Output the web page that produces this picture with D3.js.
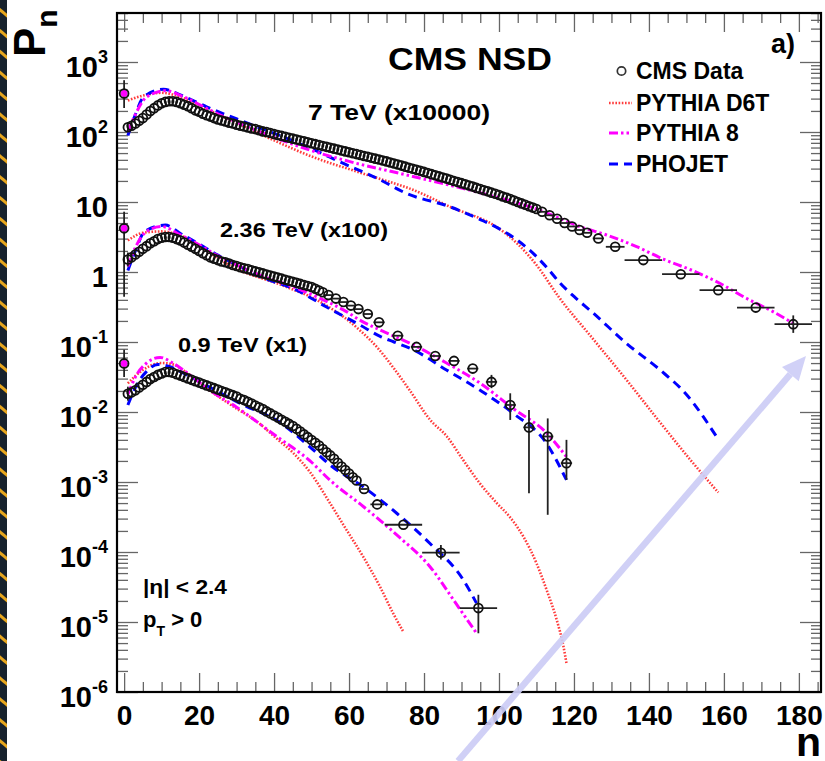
<!DOCTYPE html>
<html><head><meta charset="utf-8">
<script src="https://cdn.jsdelivr.net/npm/d3@7"></script>
<style>
body{margin:0;background:#fff;}
svg{display:block;font-family:"Liberation Sans",Arial,Helvetica,sans-serif;font-weight:bold;}
</style></head><body>
<svg id="c" width="825" height="761"></svg>
<script>
// ---------------- DATA (displayed values, already scaled) ----------------
const energyLabels = ["7 TeV (x10000)", "2.36 TeV (x100)", "0.9 TeV (x1)"];
const legendLabels = ["CMS Data", "PYTHIA D6T", "PYTHIA 8", "PHOJET"];
const xTickValues = [0, 20, 40, 60, 80, 100, 120, 140, 160, 180];
const yDecades = [-6, -5, -4, -3, -2, -1, 0, 1, 2, 3];

// CMS data, 7 TeV (x10000): n = 0..110 then wider bins
const cms7_v = [355,117,123,132,145,158,178,200,219,240,
 257,269,275,275,269,257,245,234,219,204,
 195,182,174,166,158,151,146,141,136,132,
 127,123,120,116,112,110,106,102,100,96.6,
 93.3,90.6,87.9,85.3,82.8,80.4,78.0,75.7,73.5,71.3,
 69.2,67.1,65.2,63.2,61.4,59.6,57.8,56.1,54.4,52.8,
 51.3,49.8,48.3,46.9,45.5,44.2,42.9,41.6,40.4,39.2,
 38.0,36.7,35.5,34.3,33.1,32.0,30.9,29.9,28.8,27.9,
 26.9,25.9,25.0,24.1,23.2,22.4,21.6,20.8,20.0,19.3,
 18.6,17.9,17.2,16.6,15.9,15.3,14.7,14.2,13.6,13.1,
 12.6,12.0,11.5,11.0,10.5,10.0,9.55,9.12,8.71,8.32,
 7.94];
const cms7_tail_n = [111.5,113.5,115.5,117.5,119.5,121.5,123.5,126.5,131,138.5,148.5,158.5,168.5,178.5];
const cms7_tail_v = [7.24,6.46,5.75,5.01,4.47,3.98,3.63,3.02,2.29,1.48,0.93,0.55,0.31,0.18];
const cms7_tail_xe = [1,1,1,1,1,1,1,1.5,2.5,5,5,5,5,5];
const cms7_err = [[0,220,550],[1,100,137],[2,108,138],[178.5,0.135,0.24]];

// CMS data, 2.36 TeV (x100): n = 0..53 then wider bins
const cms236_v = [4.2,1.51,1.62,1.78,1.95,2.14,2.34,2.57,2.75,2.95,
 3.09,3.16,3.16,3.09,2.95,2.82,2.63,2.45,2.29,2.14,
 2.00,1.86,1.74,1.62,1.55,1.48,1.41,1.38,1.32,1.26,
 1.22,1.17,1.13,1.10,1.06,1.02,0.989,0.955,0.923,0.891,
 0.861,0.832,0.804,0.776,0.750,0.724,0.700,0.676,0.653,0.631,
 0.610,0.575,0.543,0.513];
const cms236_tail_n = [54.5,56.5,58.5,60.5,62.5,65,68,73,78,83,88,93,98,103,108,113,118];
const cms236_tail_v = [0.468,0.417,0.372,0.331,0.295,0.251,0.191,0.123,0.0851,0.0631,0.0537,0.0417,0.0269,0.0126,0.00603,0.00447,0.00186];
const cms236_tail_xe = [1,1,1,1,1,1.2,1.5,1.5,1.5,1.5,1.5,1.5,1.5,1.5,1.5,1.5,1.5];
const cms236_err = [[0,0.443,7.27],[1,1.2,1.9],[2,1.4,1.85],[98,0.0219,0.0339],[103,0.0077,0.0185],[108,0.00069,0.0107],[113,0.00034,0.0081],[118,0.00107,0.0040]];

// CMS data, 0.9 TeV (x1): n = 0..62 then wider bins
const cms09_v = [0.0495,0.0182,0.0191,0.0204,0.0224,0.0245,0.0269,0.0295,0.0316,0.0339,
 0.0355,0.0372,0.0372,0.0363,0.0347,0.0331,0.0316,0.0302,0.0288,0.0275,
 0.0263,0.0251,0.0240,0.0229,0.0219,0.0209,0.0200,0.0191,0.0182,0.0174,
 0.0166,0.0155,0.0148,0.0140,0.0132,0.0124,0.0117,0.0110,0.0102,0.00955,
 0.00891,0.00832,0.00776,0.00724,0.00676,0.00631,0.00575,0.00525,0.00479,0.00437,
 0.00398,0.00363,0.00331,0.00295,0.00266,0.00240,0.00214,0.00188,0.00166,0.00148,
 0.00132,0.00117,0.00105];
const cms09_tail_n = [64,67.5,74.5,84.5,94.5];
const cms09_tail_v = [0.000794,0.000479,0.000245,0.0000977,0.0000158];
const cms09_tail_xe = [1,1.8,5,5,5];
const cms09_err = [[0,0.0316,0.0776],[1,0.0145,0.023],[84.5,0.000078,0.000126],[94.5,0.0000069,0.0000245]];

// PYTHIA D6T
const d6t7_n = [1,5,10,15,20,25,30,40,50,60,70,76,87,100,105,110,116,125,134,143,151,158.5];
const d6t7_v = [282,331,363,316,240,178,135,75.9,44.7,29.5,20.0,15.7,8.51,4.17,2.51,1.26,0.436,0.112,0.0288,0.00708,0.00209,0.000708];
const d6t236_n = [1,5,10,15,20,25,30,35,40.7,45,49.6,54,58.5,63,67.4,72,76.3,81.6,86.1,90.5,94.9,99.4,102.9,106.5,110,112.7,115.4,117.2,118];
const d6t236_v = [2.82,3.63,3.80,3.31,2.40,1.58,1.10,0.871,0.692,0.562,0.447,0.331,0.229,0.145,0.0851,0.0417,0.0200,0.00776,0.00447,0.00204,0.000955,0.000501,0.000316,0.000166,0.0000692,0.0000288,0.0000107,0.00000447,0.00000257];
const d6t09_n = [1,5,10,13,17,23,30,35,40.7,45,49.6,54.9,59.4,63.8,68.3,71.8,74.5];
const d6t09_v = [0.0257,0.0398,0.0501,0.0479,0.0355,0.0200,0.0112,0.00759,0.00417,0.00263,0.00138,0.000501,0.000204,0.0000851,0.0000316,0.0000132,0.00000724];

// PYTHIA 8
const py8_7_n = [1,3,6,11,16,23,30,40.7,49.6,60,75.4,90,100,110,116,121.6,128.7,136.7,143.8,151.8,158.9,166,173.1,178.5];
const py8_7_v = [100,178,316,389,316,204,138,81.3,55.0,38.0,24.3,15.8,11.5,7.94,5.89,4.44,3.38,2.30,1.53,1.04,0.690,0.421,0.271,0.185];
const py8_236_n = [1,3,6,10,15,20,25,30,36,46,54,58.5,63,68.3,77.1,86,95,103.8,112.7,118];
const py8_236_v = [1.20,2.24,3.80,4.47,3.39,2.45,1.70,1.26,0.912,0.589,0.380,0.288,0.204,0.148,0.0912,0.0501,0.0257,0.0112,0.00501,0.00229];
const py8_09_n = [1,3,6,9.6,13,17,22.9,30,40.7,49.6,55,63.8,72.8,81.6,88.7,94];
const py8_09_v = [0.0178,0.0316,0.0501,0.0603,0.0501,0.0355,0.0204,0.0117,0.00447,0.00200,0.00105,0.000447,0.000174,0.0000617,0.0000178,0.00000692];

// PHOJET
const pho7_n = [1,3,5.2,10.5,15,22,31.8,43.4,49.6,58.5,67.4,75.4,87,95,100,105,110,113,116.3,120,125.2,134,143,150,158];
const pho7_v = [89.1,178,316,407,339,229,141,81.3,58.9,35.5,21.9,13.2,8.51,5.62,4.17,2.82,1.66,1.12,0.692,0.447,0.257,0.0955,0.0398,0.0178,0.00447];
const pho236_n = [1,3,5.5,11,15,20,25,30,36.3,46,54,63,68.3,72,77.1,86,95,103.8,112.7,118];
const pho236_v = [1.05,2.00,3.80,4.68,3.55,2.51,1.74,1.26,0.857,0.550,0.316,0.174,0.120,0.100,0.0776,0.0398,0.0204,0.00955,0.00355,0.00107];
const pho09_n = [1,3,6,9,12,16,23,31.8,40.7,49.6,55,63.8,72.8,81.6,90.5,94];
const pho09_v = [0.0126,0.0224,0.0380,0.0479,0.0447,0.0355,0.0224,0.0126,0.00759,0.00316,0.00174,0.000851,0.000355,0.000132,0.0000398,0.0000186];

// ---------------- LAYOUT ----------------
const svg = d3.select("#c");
const L = 117, R = 821, T = 13, B = 692;
const x = d3.scaleLinear().domain([-1.9, 185.9]).range([L, R]);
const y = d3.scaleLog().domain([1e-6, Math.pow(10, 3.7)]).range([B, T]);

const colD6T = "#ff3b3b", colP8 = "#ff00ff", colPHO = "#0000ff";
const styles = {
  d6t: {stroke: colD6T, dash: "1.6,1.6", w: 2.6},
  p8:  {stroke: colP8, dash: "9,3,2.5,3,2.5,3", w: 3},
  pho: {stroke: colPHO, dash: "9,6", w: 3}
};

// decorative left strip
const defs = svg.append("defs");
const pat = defs.append("pattern").attr("id","stripe").attr("width",9).attr("height",16)
  .attr("patternUnits","userSpaceOnUse").attr("patternTransform","rotate(40)");
pat.append("rect").attr("width",9).attr("height",16).attr("fill","#17222d");
pat.append("rect").attr("width",9).attr("height",3).attr("y",6).attr("fill","#e6a61e");
svg.append("rect").attr("x",0).attr("y",0).attr("width",7).attr("height",761).attr("fill","url(#stripe)");
defs.append("clipPath").attr("id","plotclip").append("rect")
  .attr("x",L).attr("y",T).attr("width",R-L).attr("height",B-T);

// ---------------- AXES (ticks) ----------------
const minorY = [];
for (let k = -6; k <= 3; k++) for (let m = 2; m <= 9; m++) { const v = m*Math.pow(10,k); if (v <= y.domain()[1]) minorY.push(v); }
const majorY = yDecades.map(k => Math.pow(10,k));
const minorX = d3.range(0, 186, 5).filter(v => v % 20 !== 0);

function styleAxis(g){ g.select(".domain").remove(); g.selectAll(".tick line").attr("stroke","#666").attr("stroke-width",1.3); }
svg.append("g").attr("transform",`translate(${L},0)`).call(d3.axisLeft(y).tickValues(majorY).tickSize(-21).tickFormat("")).call(styleAxis);
svg.append("g").attr("transform",`translate(${L},0)`).call(d3.axisLeft(y).tickValues(minorY).tickSize(-11).tickFormat("")).call(styleAxis);
svg.append("g").attr("transform",`translate(${R},0)`).call(d3.axisRight(y).tickValues(majorY).tickSize(-21).tickFormat("")).call(styleAxis);
svg.append("g").attr("transform",`translate(${R},0)`).call(d3.axisRight(y).tickValues(minorY).tickSize(-10).tickFormat("")).call(styleAxis);
const xb = svg.append("g").attr("transform",`translate(0,${B})`)
  .call(d3.axisBottom(x).tickValues(xTickValues).tickSize(-19).tickPadding(13).tickFormat(d3.format("d"))).call(styleAxis);
xb.selectAll("text").attr("font-size",28).attr("fill","#000").attr("font-family","Liberation Sans, Arial, sans-serif").attr("font-weight","bold");
svg.append("g").attr("transform",`translate(0,${B})`).call(d3.axisBottom(x).tickValues(minorX).tickSize(-10).tickFormat("")).call(styleAxis);
svg.append("g").attr("transform",`translate(0,${T})`).call(d3.axisTop(x).tickValues(xTickValues).tickSize(-19).tickFormat("")).call(styleAxis);
svg.append("g").attr("transform",`translate(0,${T})`).call(d3.axisTop(x).tickValues(minorX).tickSize(-10).tickFormat("")).call(styleAxis);

// y labels
yDecades.forEach(k => {
  const t = svg.append("text").attr("x",108).attr("y", y(Math.pow(10,k)) + 14.5)
    .attr("text-anchor","end").attr("font-size",29).attr("fill","#000");
  if (k === 0) t.text("1");
  else if (k === 1) t.text("10");
  else { t.append("tspan").text("10"); t.append("tspan").attr("font-size",18).attr("dy",-14).text(String(k)); }
});

// ---------------- MC CURVES ----------------
const plot = svg.append("g").attr("clip-path","url(#plotclip)");
const line = d3.line().x(d => x(d[0])).y(d => y(d[1])).curve(d3.curveMonotoneX);
const curves = [
  [d6t7_n, d6t7_v, "d6t"], [d6t236_n, d6t236_v, "d6t"], [d6t09_n, d6t09_v, "d6t"],
  [pho7_n, pho7_v, "pho"], [pho236_n, pho236_v, "pho"], [pho09_n, pho09_v, "pho"],
  [py8_7_n, py8_7_v, "p8"], [py8_236_n, py8_236_v, "p8"], [py8_09_n, py8_09_v, "p8"]
];
curves.forEach(([ns, vs, s]) => {
  const st = styles[s];
  plot.append("path").datum(ns.map((n,i)=>[n, vs[i]])).attr("d", line)
    .attr("fill","none").attr("stroke",st.stroke).attr("stroke-width",st.w).attr("stroke-dasharray",st.dash);
});

// ---------------- DATA ----------------
const datasets = [
  {v: cms7_v, tn: cms7_tail_n, tv: cms7_tail_v, txe: cms7_tail_xe, err: cms7_err},
  {v: cms236_v, tn: cms236_tail_n, tv: cms236_tail_v, txe: cms236_tail_xe, err: cms236_err},
  {v: cms09_v, tn: cms09_tail_n, tv: cms09_tail_v, txe: cms09_tail_xe, err: cms09_err}
];
const dg = plot.append("g");
datasets.forEach(ds => {
  const pts = ds.v.map((v,i)=>({n:i, v:v, xe:0}))
    .concat(ds.tn.map((n,i)=>({n:n, v:ds.tv[i], xe:ds.txe[i]})));
  dg.selectAll(null).data(pts.filter(p=>p.xe>0)).enter().append("line")
    .attr("x1",p=>x(p.n-p.xe)).attr("x2",p=>x(p.n+p.xe)).attr("y1",p=>y(p.v)).attr("y2",p=>y(p.v))
    .attr("stroke","#222").attr("stroke-width",1.8);
  dg.selectAll(null).data(ds.err).enter().append("line")
    .attr("x1",e=>x(e[0])).attr("x2",e=>x(e[0])).attr("y1",e=>y(e[1])).attr("y2",e=>y(e[2]))
    .attr("stroke","#222").attr("stroke-width",1.8);
  dg.append("circle").attr("cx",x(0)).attr("cy",y(ds.v[0])).attr("r",3.5).attr("fill",colP8);
  dg.selectAll(null).data(pts).enter().append("circle")
    .attr("cx",p=>x(p.n)).attr("cy",p=>y(p.v)).attr("r",4.4)
    .attr("fill","none").attr("stroke","#111").attr("stroke-width",1.8);
});

// frame
svg.append("rect").attr("x",L).attr("y",T).attr("width",R-L).attr("height",B-T)
  .attr("fill","none").attr("stroke","#000").attr("stroke-width",2.2);

// ---------------- TEXT ----------------
function txt(s, xx, yy, fs, opts){ const t = svg.append("text").attr("x",xx).attr("y",yy).attr("font-size",fs).attr("fill","#000").text(s);
  if (opts && opts.len) t.attr("textLength",opts.len).attr("lengthAdjust","spacingAndGlyphs");
  if (opts && opts.anchor) t.attr("text-anchor",opts.anchor); return t; }
txt("CMS NSD", 388, 70, 31, {len:164});
txt("a)", 771, 53, 27);
txt(energyLabels[0], 308, 120, 22, {len:182});
txt(energyLabels[1], 220, 237, 21, {len:168});
txt(energyLabels[2], 178, 352, 21, {len:129});

// legend
const legY = [79, 111, 141, 172];
legendLabels.forEach((s,i) => txt(s, 636, legY[i], 23));
svg.append("circle").attr("cx",621.5).attr("cy",legY[0]-8).attr("r",4.2).attr("fill","none").attr("stroke","#333").attr("stroke-width",1.7);
[["d6t",1],["p8",2],["pho",3]].forEach(([s,i]) => {
  const st = styles[s];
  svg.append("line").attr("x1",609).attr("x2",632).attr("y1",legY[i]-8).attr("y2",legY[i]-8)
    .attr("stroke",st.stroke).attr("stroke-width",st.w).attr("stroke-dasharray",st.dash);
});

// cuts
txt("|\u03B7| < 2.4", 143, 594, 21, {len:84});
const pt = svg.append("text").attr("x",143).attr("y",627).attr("font-size",22).attr("fill","#000");
pt.append("tspan").text("p");
pt.append("tspan").attr("font-size",14).attr("dy",9).text("T");
pt.append("tspan").attr("dy",-9).text(" > 0");

// axis titles
const yt = svg.append("text").attr("transform","translate(45,57) rotate(-90)").attr("font-size",44).attr("fill","#000");
yt.append("tspan").text("P");
yt.append("tspan").attr("font-size",30).attr("dy",12).text("n");
txt("n", 821, 756, 41, {anchor:"end"});

// presentation arrow
const ax0 = 458, ay0 = 761, ax1 = 806, ay1 = 356;
const dx = ax1-ax0, dy = ay1-ay0, len = Math.hypot(dx,dy), ux = dx/len, uy = dy/len;
const bx = ax1 - 24*ux, by = ay1 - 24*uy;
svg.append("line").attr("x1",ax0).attr("y1",ay0).attr("x2",bx).attr("y2",by)
  .attr("stroke","#cdcdf6").attr("stroke-width",6.5).attr("opacity",0.92);
svg.append("polygon").attr("points",[[ax1,ay1],[bx-11*uy, by+11*ux],[bx+11*uy, by-11*ux]].map(p=>p.join(",")).join(" "))
  .attr("fill","#cdcdf6").attr("opacity",0.92);
</script>
</body></html>
